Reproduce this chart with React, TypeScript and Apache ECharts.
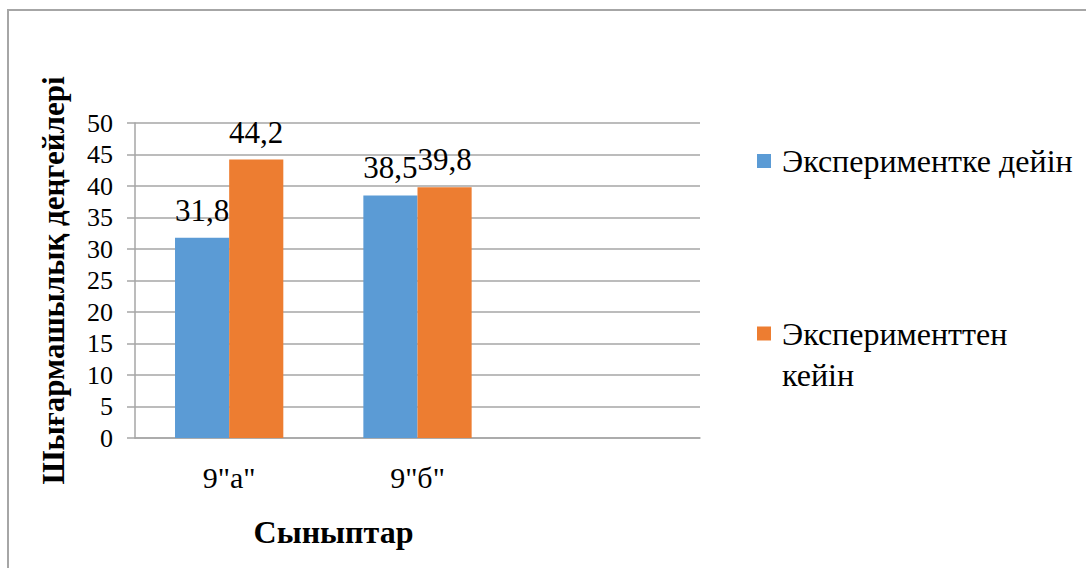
import React, { useEffect, useRef } from "react";
import * as echarts from "echarts";

const categories = ['9"а"', '9"б"', ""];
const beforeValues = [31.8, 38.5, null];
const afterValues = [44.2, 39.8, null];
const seriesNames = ["Экспериментке дейін", "Эксперименттен кейін"];
const yTicks = { min: 0, max: 50, interval: 5 };

const FONT = "Liberation Serif";

export default function App() {
  const ref = useRef<HTMLDivElement>(null);
  useEffect(() => {
    if (!ref.current) return;
    const chart = echarts.init(ref.current, undefined, { renderer: "svg" });
    const labelFmt = (p: any) => String(p.value).replace(".", ",");
    chart.setOption({
      animation: false,
      textStyle: { fontFamily: FONT, color: "#000" },
      graphic: [
        {
          type: "rect",
          shape: { x: 8, y: 10, width: 1200, height: 700 },
          style: { fill: "none", stroke: "#a6a6a6", lineWidth: 2 },
          silent: true,
        },
      ],
      grid: { left: 135, right: 386, top: 123, bottom: 130, containLabel: false },
      legend: [
        {
          orient: "vertical",
          left: 757,
          top: 145,
          padding: 0,
          itemWidth: 14,
          itemHeight: 14,
          icon: "rect",
          data: [seriesNames[0]],
          textStyle: { fontFamily: FONT, fontSize: 32, color: "#000", padding: [0, 0, 0, 6] },
        },
        {
          orient: "vertical",
          left: 757,
          top: 272,
          padding: 0,
          itemWidth: 14,
          itemHeight: 14,
          icon: "rect",
          data: [seriesNames[1]],
          formatter: () => "\nЭксперименттен\nкейін",
          textStyle: {
            fontFamily: FONT,
            fontSize: 32,
            color: "#000",
            lineHeight: 41,
            padding: [0, 0, 0, 6],
          },
        },
      ],
      xAxis: {
        type: "category",
        data: categories,
        axisLine: { lineStyle: { color: "#a6a6a6", width: 1.5 } },
        axisTick: { show: false },
        axisLabel: { fontFamily: FONT, fontSize: 30, color: "#000", margin: 24 },
        name: "Сыныптар",
        nameLocation: "middle",
        nameGap: 78,
        nameTextStyle: {
          fontFamily: FONT,
          fontSize: 32,
          fontWeight: "bold",
          color: "#000",
          padding: [0, 168, 0, 0],
        },
      },
      yAxis: {
        type: "value",
        min: yTicks.min,
        max: yTicks.max,
        interval: yTicks.interval,
        axisLine: { show: true, lineStyle: { color: "#a6a6a6", width: 1.5 } },
        axisTick: { show: true, length: 8, lineStyle: { color: "#a6a6a6", width: 1.5 } },
        splitLine: { lineStyle: { color: "#a6a6a6", width: 1.5 } },
        axisLabel: { fontFamily: FONT, fontSize: 26, color: "#000", margin: 22 },
        name: "Шығармашылық деңгейлері",
        nameLocation: "middle",
        nameGap: 66,
        nameTextStyle: { fontFamily: FONT, fontSize: 31, fontWeight: "bold", color: "#000" },
      },
      series: [
        {
          name: seriesNames[0],
          type: "bar",
          data: beforeValues,
          barGap: "0%",
          barCategoryGap: "42.5%",
          itemStyle: { color: "#5b9bd5" },
          label: {
            show: true,
            position: "top",
            distance: 12,
            fontFamily: FONT,
            fontSize: 31,
            color: "#000",
            formatter: labelFmt,
          },
        },
        {
          name: seriesNames[1],
          type: "bar",
          data: afterValues,
          barGap: "0%",
          barCategoryGap: "42.5%",
          itemStyle: { color: "#ed7d31" },
          label: {
            show: true,
            position: "top",
            distance: 12,
            fontFamily: FONT,
            fontSize: 31,
            color: "#000",
            formatter: labelFmt,
          },
        },
      ],
    });
    return () => chart.dispose();
  }, []);
  return (
    <div
      ref={ref}
      style={{ position: "absolute", left: 0, top: 0, width: 1086, height: 568, background: "#fff" }}
    />
  );
}
